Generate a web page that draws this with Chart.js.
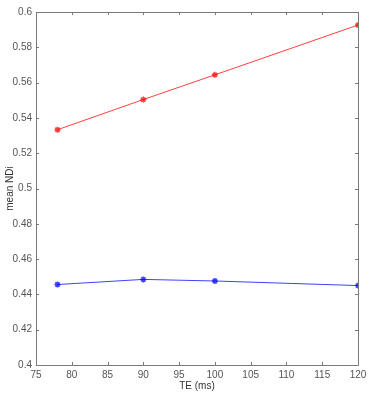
<!DOCTYPE html>
<html>
<head>
<meta charset="utf-8">
<script src="https://cdn.jsdelivr.net/npm/chart.js@4"></script>
<style>
  html, body { margin: 0; padding: 0; background: #fff; }
  #wrap { width: 385px; height: 400px; }
</style>
</head>
<body>
<div id="wrap"><canvas id="chart"></canvas></div>
<script>
// echo times (ms)
const teValues = [78, 90, 100, 120];
// mean NDI per TE
const redSeries = [0.5333, 0.5504, 0.5644, 0.5926];
const blueSeries = [0.4456, 0.4485, 0.4476, 0.4450];

const xTicks = [75, 80, 85, 90, 95, 100, 105, 110, 115, 120];
const yTicks = [0.4, 0.42, 0.44, 0.46, 0.48, 0.5, 0.52, 0.54, 0.56, 0.58, 0.6];

const axisColor = '#7a7a7a';
const textColor = '#555';

// matlab style box with inward ticks on all four sides
const boxPlugin = {
    id: 'box',
    afterDraw(chart) {
        const ctx = chart.ctx;
        const a = chart.chartArea;
        const xs = chart.scales.x, ys = chart.scales.y;
        const len = 3;
        ctx.save();
        ctx.strokeStyle = axisColor;
        ctx.lineWidth = 1;
        ctx.beginPath();
        ctx.rect(Math.round(a.left) + 0.5, Math.round(a.top) + 0.5,
                 Math.round(a.right - a.left), Math.round(a.bottom - a.top));
        xTicks.forEach(v => {
            const px = Math.round(xs.getPixelForValue(v)) + 0.5;
            ctx.moveTo(px, a.bottom); ctx.lineTo(px, a.bottom - len);
            ctx.moveTo(px, a.top); ctx.lineTo(px, a.top + len);
        });
        yTicks.forEach(v => {
            const py = Math.round(ys.getPixelForValue(v)) + 0.5;
            ctx.moveTo(a.left, py); ctx.lineTo(a.left + len, py);
            ctx.moveTo(a.right, py); ctx.lineTo(a.right - len, py);
        });
        ctx.stroke();
        ctx.restore();
    }
};

function toPoints(ys) {
    return teValues.map((x, i) => ({ x: x, y: ys[i] }));
}

new Chart(document.getElementById('chart'), {
    type: 'line',
    data: {
        datasets: [{
            data: toPoints(redSeries),
            borderColor: 'rgba(255,0,0,0.75)',
            backgroundColor: 'rgba(255,0,0,0.75)',
            borderWidth: 1,
            pointStyle: 'star',
            pointRadius: 3,
            pointBorderWidth: 1.5,
            tension: 0
        }, {
            data: toPoints(blueSeries),
            borderColor: 'rgba(0,0,255,0.75)',
            backgroundColor: 'rgba(0,0,255,0.75)',
            borderWidth: 1,
            pointStyle: 'star',
            pointRadius: 3,
            pointBorderWidth: 1.5,
            tension: 0
        }]
    },
    options: {
        responsive: true,
        maintainAspectRatio: false,
        animation: false,
        layout: { padding: { top: 12, right: 27, left: 0, bottom: 0 } },
        plugins: {
            legend: { display: false },
            tooltip: { enabled: false }
        },
        scales: {
            x: {
                type: 'linear',
                min: 75,
                max: 120,
                afterBuildTicks: s => { s.ticks = xTicks.map(v => ({ value: v })); },
                afterFit: s => { s.height = 35; },
                grid: { display: false, drawTicks: false },
                border: { display: false },
                ticks: {
                    color: textColor,
                    padding: 4,
                    maxRotation: 0,
                    font: { family: 'Liberation Sans', size: 10 }
                },
                title: {
                    display: true,
                    text: 'TE (ms)',
                    color: '#333',
                    padding: { top: 0, bottom: 8 },
                    font: { family: 'Liberation Sans', size: 10 }
                }
            },
            y: {
                min: 0.4,
                max: 0.6,
                afterBuildTicks: s => { s.ticks = yTicks.map(v => ({ value: v })); },
                afterFit: s => { s.width = 36; },
                grid: { display: false, drawTicks: false },
                border: { display: false },
                ticks: {
                    color: textColor,
                    padding: 4,
                    font: { family: 'Liberation Sans', size: 10 },
                    callback: v => String(+v.toFixed(2))
                },
                title: {
                    display: true,
                    text: 'mean NDi',
                    color: '#333',
                    padding: { top: 4, bottom: 0 },
                    font: { family: 'Liberation Sans', size: 10 }
                }
            }
        }
    },
    plugins: [boxPlugin]
});
</script>
</body>
</html>
